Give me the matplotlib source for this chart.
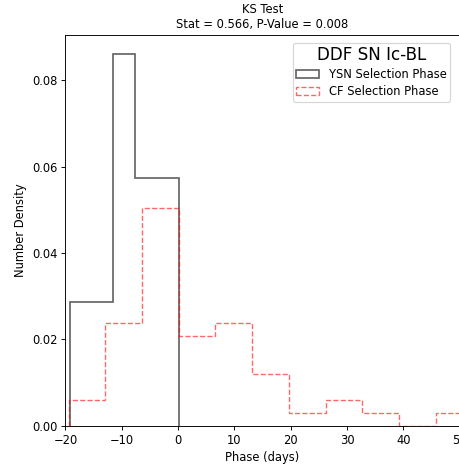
import numpy as np
import matplotlib
matplotlib.use('Agg')
import matplotlib.pyplot as plt

# bin edges and densities
ysn_edges = [-19.25, -15.38, -11.5, -7.63, -3.76, 0.12]
ysn_density = [0.0287, 0.0287, 0.0861, 0.0574, 0.0574]

cf_edges = [-19.45, -12.93, -6.41, 0.11, 6.63, 13.15, 19.67, 26.19,
            32.71, 39.23, 45.75, 52.27]
cf_density = [0.00596, 0.0237, 0.0503, 0.0208, 0.0237, 0.0120,
              0.0030, 0.0060, 0.0030, 0.0, 0.0030]

DPI = 83
fig = plt.figure(figsize=(459 / DPI, 464 / DPI), dpi=DPI)
ax = fig.add_axes([0.1425, 0.0825, 0.859, 0.8425])

ax.hist(ysn_edges[:-1], bins=ysn_edges, weights=ysn_density, histtype='step',
        color='black', alpha=0.6, linewidth=1.5, label='YSN Selection Phase')
ax.hist(cf_edges[:-1], bins=cf_edges, weights=cf_density, histtype='step',
        color='red', alpha=0.6, linewidth=1.2, linestyle='--',
        label='CF Selection Phase')

ax.set_xlim(-20, 50)
ax.set_ylim(0, 0.0905)
ax.set_yticks([0.0, 0.02, 0.04, 0.06, 0.08])
ax.set_xlabel('Phase (days)')
ax.set_ylabel('Number Density')
ax.set_title('KS Test\nStat = 0.566, P-Value = 0.008', fontsize=10)
leg = ax.legend(loc='upper right', title='DDF SN Ic-BL', title_fontsize=14.5,
                bbox_to_anchor=(0.99, 0.995), borderpad=0.3, labelspacing=0.35)

plt.savefig('out.png', dpi=DPI)
